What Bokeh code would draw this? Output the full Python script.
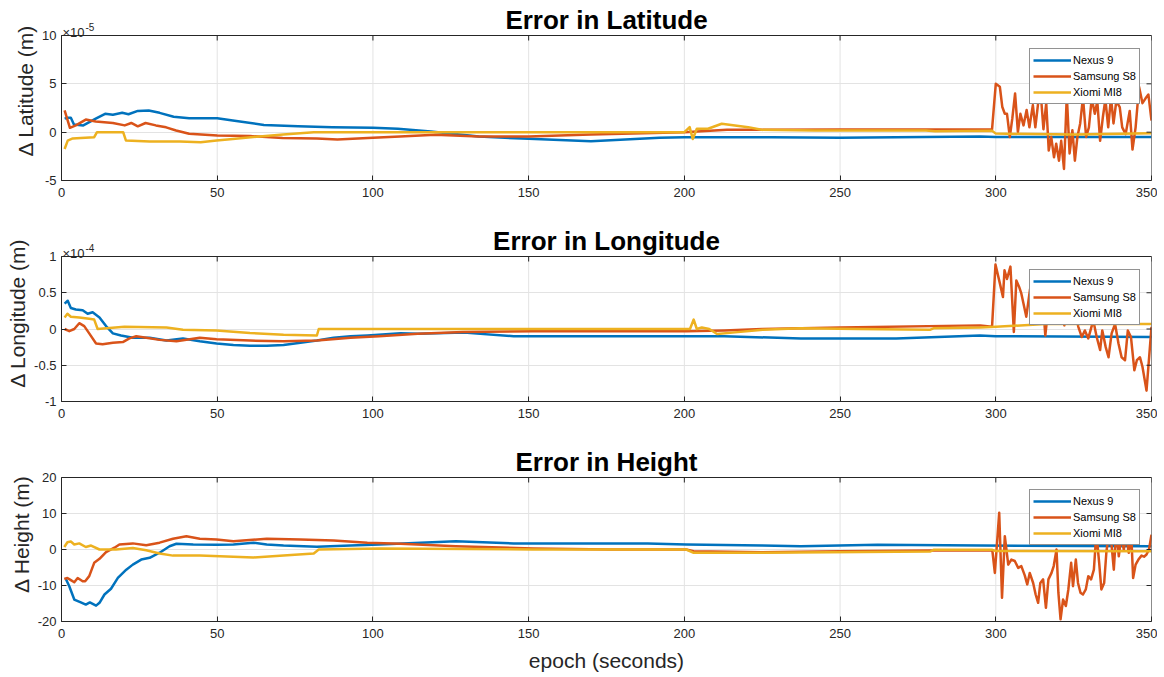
from bokeh.plotting import figure
from bokeh.layouts import column
from bokeh.models import Legend, LegendItem, Label, FixedTicker, Range1d
from bokeh.embed import file_html
from bokeh.resources import INLINE

# ---------------- data ----------------
device_names = ["Nexus 9", "Samsung S8", "Xiomi MI8"]
x_min, x_max = 0, 350
x_ticks = [0, 50, 100, 150, 200, 250, 300, 350]
x_tick_labels = ["0", "50", "100", "150", "200", "250", "300", "350"]

# Latitude error, in units of 1e-5 m
lat_ticks = [-5, 0, 5, 10]
lat_tick_labels = ["-5", "0", "5", "10"]
lat_nexus_ep = [1, 2, 3, 4, 7, 11, 14, 16.5, 19.5, 21.5, 24.5, 28, 31.5, 36, 41, 50, 55, 65, 76, 87,
                100, 108, 118.6, 134, 150, 170, 192, 200, 228, 250, 295, 300, 350]
lat_nexus = [1.4, 1.5, 1.5, 0.8, 0.7, 1.4, 1.9, 1.8, 2.0, 1.85, 2.2, 2.25, 2.0, 1.6, 1.45, 1.45, 1.2, 0.75, 0.6, 0.5,
             0.46, 0.35, 0.07, -0.45, -0.69, -0.93, -0.59, -0.52, -0.52, -0.58, -0.45, -0.5, -0.5]
lat_samsung_ep = [1, 2.7, 4.6, 7.8, 11, 16.5, 20.3, 22.4, 24.5, 27, 30.3, 33.6, 36.8, 41, 50, 60.5, 71, 82, 88.6, 100,
                  108.7, 120, 134, 150, 170, 200, 213.7, 250, 295, 298.8,
                  300, 301.3, 302.1, 302.9, 303.6, 304.5, 305.3, 306.2, 307.1, 307.9,
                  308.9, 309.9, 310.8, 311.9, 312.7, 313.6, 314.6, 315.3, 316.2, 317,
                  317.8, 318.7, 319.4, 320.3, 321, 321.9, 322.8, 323.7, 324.6, 325.4,
                  326.2, 327.1, 328, 329, 329.9, 330.8, 331.8, 332.6, 333.5, 334.4,
                  335.2, 336.1, 337, 337.8, 338.7, 339.8, 340.6, 341.7, 343, 343.9,
                  344.9, 346, 347.1, 348.1, 349, 350]
lat_samsung = [2.26, 0.45, 0.7, 1.3, 1.1, 0.95, 0.7, 0.95, 0.6, 0.95, 0.7, 0.5, 0.17, -0.17, -0.35, -0.4, -0.6, -0.65, -0.76, -0.59,
               -0.45, -0.28, -0.45, -0.45, -0.24, 0, 0.25, 0.28, 0.28, 0.28,
               5.0, 4.7, 2.6, 1.9, 1.9, -0.5, 1.4, 4.0, 0, 1.9,
               0.7, 2.3, 0.5, 2.8, 0.5, 3.0, 3.3, 0.3, 3.0, -1.9,
               -0.5, -2.6, -1.2, -2.95, -0.9, -3.8, 3.8, -2.2, 0.2, -2.95,
               -0.5, 0.9, 3.6, -0.5, 0.5, 3.5, 1.9, 3.2, -0.9, 1.6,
               3.4, 0.5, 3.6, 0.9, 3.2, 2.6, 0.5, -0.2, 2.2, -1.8,
               0.5, 4.7, 3.0, 3.5, 3.9, 1.2]
lat_xiaomi_ep = [1, 2, 3.6, 6.2, 10.5, 11.4, 19.8, 20.7, 28.3, 38, 44.7, 49.8, 55, 63.6, 71.2, 81, 200, 201.7, 202.7, 204,
                 207.6, 212, 220.5, 224.8, 242, 277.6, 280.5, 298.8, 300, 325, 350]
lat_xiaomi = [-1.74, -0.87, -0.65, -0.6, -0.52, 0, 0, -0.87, -0.97, -0.97, -1.04, -0.87, -0.7, -0.45, -0.24, 0, 0, 0.52, -0.7, 0.35,
              0.35, 0.87, 0.52, 0.24, 0.17, 0.17, 0.1, 0.15, -0.15, -0.25, -0.1]

# Longitude error, in units of 1e-4 m
lon_ticks = [-1, -0.5, 0, 0.5, 1]
lon_tick_labels = ["-1", "-0.5", "0", "0.5", "1"]
lon_nexus_ep = [1, 2, 3, 4.6, 6.8, 8.4, 10, 12.2, 14.3, 16.5, 19.1, 22.9, 28.3, 33.7, 39, 44.4, 49.8, 55.2, 60.5, 65.9,
                71.3, 76.7, 82, 87.4, 92.8, 98.2, 108.9, 114.4, 129.2, 145.2, 163.6, 188.2, 212.8, 237.4, 268, 294.9, 300, 350]
lon_nexus = [0.35, 0.39, 0.29, 0.27, 0.26, 0.21, 0.23, 0.16, 0.04, -0.06, -0.09, -0.12, -0.12, -0.16, -0.13, -0.17, -0.2, -0.22, -0.23, -0.23,
             -0.22, -0.19, -0.16, -0.12, -0.1, -0.09, -0.06, -0.064, -0.05, -0.1, -0.1, -0.1, -0.1, -0.13, -0.13, -0.09, -0.1, -0.11]
lon_samsung_ep = [1, 2.5, 4.1, 5.7, 7.3, 8.9, 11.1, 13.2, 16.5, 19.7, 21.8, 24, 27.2, 31.5, 36.9, 44.4, 49.8, 60.5, 71.3, 82,
                  92.8, 102, 114.4, 129, 151.4, 176, 200.6, 212.8, 225, 250, 295, 298.8,
                  299.9, 301.2, 302.3, 302.8, 303.6, 304.7, 305.8, 306.6, 307.5, 308.2,
                  309.8, 311, 312, 313, 314, 315, 315.9, 317, 318, 319,
                  320, 321, 322, 323, 324, 325, 326.5, 327.6, 328.6, 329.7,
                  331.3, 332.4, 333.5, 334.2, 335.3, 336.2, 337.2, 338.3, 339.4, 340.4,
                  341.5, 342.4, 343.4, 344.5, 345.3, 346.3, 347.1, 348.4, 350]
lon_samsung = [0, -0.03, 0, 0.08, 0.04, -0.06, -0.2, -0.21, -0.19, -0.18, -0.13, -0.1, -0.12, -0.15, -0.17, -0.12, -0.14, -0.16, -0.17, -0.16,
               -0.12, -0.1, -0.064, -0.04, -0.03, -0.03, -0.03, -0.02, 0, 0.02, 0.05, 0.03,
               0.89, 0.65, 0.44, 0.81, 0.69, 0.86, -0.04, 0.67, 0.58, 0.49,
               0.17, 0.55, 0.3, 0.6, 0.2, 0.45, -0.09, 0.35, 0.15, 0.4,
               0.1, 0.3, 0.05, 0.25, 0.1, 0.3, 0.03, -0.11, -0.02, -0.13,
               0.12, -0.11, -0.29, -0.02, -0.25, -0.39, -0.06, 0.07, -0.2, -0.39,
               -0.43, -0.02, -0.11, -0.57, -0.43, -0.39, -0.52, -0.85, 0.03]
lon_xiaomi_ep = [1, 1.9, 3, 5.7, 8.9, 10.5, 11.6, 20.2, 33.7, 39, 49.8, 60.5, 71.3, 82, 82.6, 201.8, 203, 204, 205.6, 208,
                 210.5, 215.4, 225.2, 237.4, 255.8, 279, 280, 295, 300, 316, 350]
lon_xiaomi = [0.16, 0.21, 0.17, 0.16, 0.14, 0.13, 0, 0.03, 0.02, -0.01, -0.02, -0.055, -0.08, -0.09, 0, 0, 0.13, 0, 0.02, 0,
              -0.07, -0.05, -0.01, 0.01, 0, -0.01, 0.01, 0.02, 0.03, 0.07, 0.07]

# Height error, m
hgt_ticks = [-20, -10, 0, 10, 20]
hgt_tick_labels = ["-20", "-10", "0", "10", "20"]
hgt_nexus_ep = [1.4, 2.5, 4.1, 6.2, 7.8, 9.1, 11.1, 12.2, 13.8, 15.9, 18.1, 20.8, 22.9, 25.6, 28.3, 31.5, 34.7, 36.9, 42.3, 49.8,
                55.2, 61.6, 65.9, 71.3, 82, 92.8, 102, 126.6, 145.2, 163.6, 188.2, 200.6, 225, 237.4, 262, 295, 350]
hgt_nexus = [-8.2, -10.2, -13.9, -14.7, -15.3, -14.7, -15.6, -14.8, -12.5, -10.9, -7.9, -5.6, -4.2, -2.8, -2.3, -0.9, 0.9, 1.6, 1.4, 1.3,
             1.4, 1.9, 1.4, 1.1, 0.74, 1.1, 1.4, 2.3, 1.67, 1.67, 1.67, 1.4, 1.1, 0.93, 1.3, 1.1, 0.93]
hgt_samsung_ep = [0.9, 1.9, 3, 4.1, 5.2, 6.8, 7.6, 8.9, 10.5, 12.2, 14.3, 17, 18.6, 22.9, 27.2, 31.5, 35.8, 40.1, 44.4, 49.8,
                  55.2, 65.9, 76.7, 87.4, 98.2, 108.9, 126.6, 151.4, 176, 200.6, 203, 225, 250, 279, 295, 298.9,
                  299.7, 301.1, 302.0, 302.9, 304.0, 305.0, 306.1, 307.2, 308.2, 309.3,
                  310.1, 310.9, 312.0, 312.8, 313.6, 314.3, 315.2, 316.1, 316.9, 317.9,
                  318.6, 319.5, 320.1, 320.8, 321.6, 322.5, 323.3, 324.2, 324.8, 325.7,
                  326.4, 327.2, 328.0, 328.9, 329.7, 330.6, 331.5, 332.3, 333.2, 333.9,
                  334.8, 335.5, 336.4, 337.1, 337.9, 338.7, 339.5, 340.3, 341.1, 341.9,
                  342.7, 343.5, 344.1, 344.9, 345.8, 346.8, 347.6, 348.4, 349.2, 350.0]
hgt_samsung = [-8.2, -7.9, -8.5, -9.1, -7.9, -8.8, -8.8, -7.4, -3.7, -2.6, -0.7, 0.5, 1.4, 1.7, 1.2, 1.9, 3.0, 3.7, 3.0, 2.8,
               2.3, 3.0, 2.8, 2.5, 1.9, 1.6, 0.93, 0.28, 0, 0, -0.46, -0.74, -0.46, -0.28, -0.28, -0.28,
               -6.5, 10.2, -13.4, 3.7, -4.2, -2.8, -3.2, -5.1, -4.6, -7.2,
               -9.7, -6.5, -9.3, -12.5, -14.8, -9.3, -8.3, -16.2, -8.3, -6.5,
               -4.6, 0.0, -12.0, -19.4, -13.9, -15.7, -11.1, -3.7, -10.2, -2.8,
               -9.3, -12.0, -12.5, -11.1, -7.4, -8.3, -5.6, 4.6, -3.7, -11.1,
               -9.3, -0.9, 5.6, 2.0, -5.6, 5.6, -1.9, 3.7, 0.0, 3.7,
               -0.9, 4.1, -7.9, -4.2, -2.8, -1.7, -2.0, -1.4, 0.0, 4.1]
hgt_xiaomi_ep = [0.9, 1.9, 3, 4.1, 5.7, 7.8, 9.5, 12.2, 17.5, 22.9, 27.2, 31.5, 35.8, 44.4, 55.2, 61.6, 71.3, 81, 82.6, 102,
                 151.4, 200.6, 203, 225, 279, 280, 298.9, 300, 350]
hgt_xiaomi = [0.7, 2.0, 2.2, 1.4, 1.7, 0.7, 1.1, 0, 0, 0.4, -0.2, -1.1, -1.7, -1.7, -2.0, -2.2, -1.7, -1.1, 0, 0.28,
              0, 0, -0.93, -0.93, -0.56, -0.1, -0.1, -0.4, -0.5]

# ---------------- styling ----------------
FONT = "Liberation Sans"
C_AX = "#262626"
C_GRID = "#e3e3e3"
COLORS = ["#0072BD", "#D95319", "#EDB120"]
BORDER_L = 61
BOX_W = 1090
BORDER_R = 6
FIG_W = BORDER_L + BOX_W + BORDER_R
TICK_PX = 5


def make_panel(title, ylabel, ymin, ymax, yticks, ylabels, exponent, series,
               header, box_h, bottom, xlabel=None):
    # the frame covers the axes box plus a header strip above it (title / exponent)
    y_end = ymax + header * (ymax - ymin) / box_h
    p = figure(width=FIG_W, height=header + box_h + bottom,
               x_range=Range1d(x_min, x_max), y_range=Range1d(ymin, y_end),
               output_backend="svg", toolbar_location=None, title_location=None,
               min_border_left=BORDER_L, min_border_right=BORDER_R,
               min_border_top=0, min_border_bottom=bottom,
               background_fill_color="white", border_fill_color="white")
    p.outline_line_color = None
    p.xgrid.visible = False

    # axes
    p.xaxis.ticker = FixedTicker(ticks=x_ticks)
    p.xaxis.major_label_overrides = dict(zip(x_ticks, x_tick_labels))
    p.yaxis.ticker = FixedTicker(ticks=yticks)
    p.yaxis.major_label_overrides = dict(zip(yticks, ylabels))
    p.yaxis.bounds = (ymin, ymax)
    for ax in (p.xaxis[0], p.yaxis[0]):
        ax.axis_line_color = C_AX
        ax.major_tick_line_color = C_AX
        ax.major_tick_in = TICK_PX
        ax.major_tick_out = 0
        ax.minor_tick_line_color = None
        ax.major_label_text_font = FONT
        ax.major_label_text_font_size = "13px"
        ax.major_label_text_color = C_AX
        ax.axis_label_text_font = FONT
        ax.axis_label_text_font_style = "normal"
        ax.axis_label_text_font_size = "21px"
        ax.axis_label_text_color = C_AX
    p.xaxis.major_label_standoff = 7
    p.yaxis.major_label_standoff = 5
    p.yaxis.axis_label = ylabel
    p.yaxis.axis_label_standoff = 2
    if xlabel:
        p.xaxis.axis_label = xlabel
        p.xaxis.axis_label_standoff = 8

    p.ygrid.grid_line_color = C_GRID
    n = len(x_ticks)
    p.segment(x0=x_ticks, y0=[ymin] * n, x1=x_ticks, y1=[ymax] * n, line_color=C_GRID, line_width=1)

    items = []
    for (ep, vals), name, col in zip(series, device_names, COLORS):
        r = p.line(ep, vals, line_color=col, line_width=2.5, line_join="round")
        items.append(LegendItem(label=name, renderers=[r]))

    # axes box with inward ticks on top and right
    p.quad(left=[x_min], right=[x_max], bottom=[ymin], top=[ymax], fill_color=None,
           line_color=C_AX, line_width=1)
    dy = TICK_PX * (ymax - ymin) / box_h
    dx = TICK_PX * (x_max - x_min) / BOX_W
    p.segment(x0=x_ticks, y0=[ymax] * n, x1=x_ticks, y1=[ymax - dy] * n, line_color=C_AX, line_width=1)
    m = len(yticks)
    p.segment(x0=[x_max] * m, y0=yticks, x1=[x_max - dx] * m, y1=yticks, line_color=C_AX, line_width=1)

    leg = Legend(items=items, location=(968, 76), padding=3, spacing=0,
                 label_height=16, glyph_height=16, glyph_width=38, label_standoff=2,
                 label_text_font=FONT, label_text_font_size="11px", label_text_color="black",
                 border_line_color=C_AX, border_line_width=1, background_fill_color="white",
                 background_fill_alpha=1.0)
    p.add_layout(leg)

    p.add_layout(Label(x=(x_min + x_max) / 2, y=ymax, text=title, y_offset=16,
                       text_align="center", text_baseline="alphabetic",
                       text_font=FONT, text_font_size="26px", text_font_style="bold",
                       text_color="black"))
    if exponent:
        p.add_layout(Label(x=x_min, y=ymax, text="\u00d710", x_offset=1, y_offset=3,
                           text_font=FONT, text_font_size="13px", text_color=C_AX,
                           text_baseline="alphabetic"))
        p.add_layout(Label(x=x_min, y=ymax, text=exponent, x_offset=24, y_offset=9,
                           text_font=FONT, text_font_size="10px", text_color=C_AX,
                           text_baseline="alphabetic"))
    return p


p1 = make_panel("Error in Latitude", "\u0394 Latitude (m)", -5, 10, lat_ticks, lat_tick_labels, "-5",
                [(lat_nexus_ep, lat_nexus), (lat_samsung_ep, lat_samsung), (lat_xiaomi_ep, lat_xiaomi)],
                35, 145, 44)
p2 = make_panel("Error in Longitude", "\u0394 Longitude (m)", -1, 1, lon_ticks, lon_tick_labels, "-4",
                [(lon_nexus_ep, lon_nexus), (lon_samsung_ep, lon_samsung), (lon_xiaomi_ep, lon_xiaomi)],
                32, 145, 45)
p3 = make_panel("Error in Height", "\u0394 Height (m)", -20, 20, hgt_ticks, hgt_tick_labels, None,
                [(hgt_nexus_ep, hgt_nexus), (hgt_samsung_ep, hgt_samsung), (hgt_xiaomi_ep, hgt_xiaomi)],
                31, 144, 54, xlabel="epoch (seconds)")

layout = column(p1, p2, p3, spacing=0)
open("out.html", "w").write(file_html(layout, INLINE))
